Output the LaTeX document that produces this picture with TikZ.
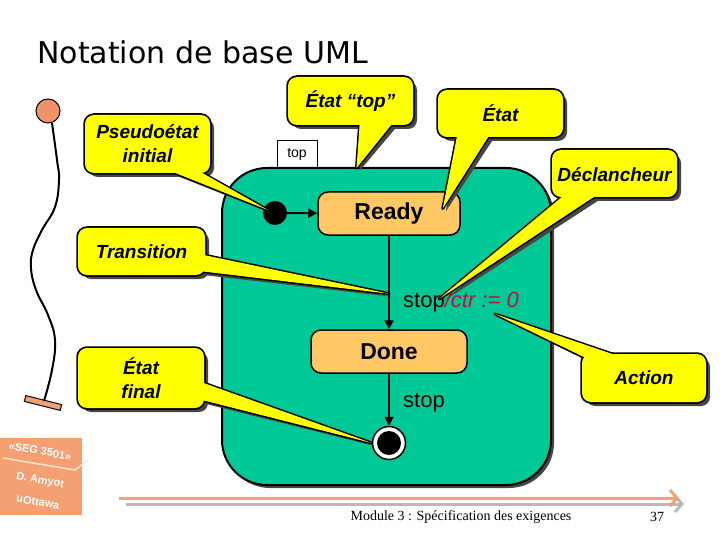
\documentclass[tikz,border=0pt]{standalone}
\usepackage{fontspec}
\setmainfont{Liberation Sans}
\newfontfamily\titlefont{DejaVu Sans}
\newfontfamily\footfont{Liberation Serif}
\usetikzlibrary{calc,arrows.meta}
\definecolor{greenc}{RGB}{0,200,150}
\definecolor{statec}{RGB}{255,200,100}
\definecolor{yelc}{RGB}{255,255,0}
\definecolor{shadowc}{RGB}{70,70,70}
\definecolor{orangec}{RGB}{245,160,115}
\definecolor{circc}{RGB}{240,145,105}
\definecolor{redc}{RGB}{190,20,60}
\definecolor{grayarrow}{RGB}{185,185,185}
\definecolor{badgeline}{RGB}{255,230,200}
\begin{document}
\begin{tikzpicture}[x=1pt,y=-1pt,
  statebox/.style={draw, fill=statec, line width=1.5pt, rounded corners=10pt,
     inner sep=0pt, font=\bfseries\fontsize{23}{25}\selectfont},
  flow/.style={line width=2pt, -{Triangle[length=9pt,width=9pt]}},
  ctext/.style={align=center, inner sep=0pt, font=\bfseries\itshape\fontsize{19}{24}\selectfont},
  badgetext/.style={text=white, inner sep=0pt, rotate=-10, font=\bfseries\fontsize{11}{13}\selectfont},
  footer/.style={inner sep=0pt, font=\footfont\fontsize{14}{16}\selectfont}]
\useasboundingbox (0,0) rectangle (720,540);

% title
\node[anchor=west, inner sep=0pt, font=\titlefont\fontsize{30}{34}\selectfont] (title) at (37,52) {Notation de base UML};

% left decoration
\node[draw, fill=orangec, line width=1pt, minimum width=37pt, minimum height=6pt, inner sep=0pt, rotate=-14] (pend) at (43,403) {};
\draw[line width=2pt] plot[smooth, tension=0.7] coordinates {(52,123) (57,160) (59,180) (55,207) (42,230) (33,250) (31,268) (36,290) (48,315) (55,340) (52,370) (44,401)};
\node[circle, draw, fill=circc, line width=1pt, minimum size=24pt, inner sep=0pt] (pstart) at (48,111) {};

% top state
\node[draw, fill=white, line width=1pt, minimum width=40pt, minimum height=27pt, inner sep=0pt, font=\fontsize{14}{16}\selectfont] (toptab) at (297,154.5) {top};
\fill[shadowc, rounded corners=45pt] (225,171) rectangle (554,488);
\node[draw, fill=greenc, line width=2pt, rounded corners=45pt, minimum width=329pt, minimum height=317pt, inner sep=0pt] (topstate) at (386.5,326.5) {};

\node[statebox, minimum width=142pt, minimum height=43pt] (ready) at (389,213.5) {Ready};
\node[statebox, minimum width=156pt, minimum height=43pt] (done) at (389,351.5) {Done};
\node[circle, fill=black, minimum size=24pt, inner sep=0pt] (init) at (275,213) {};
\node[circle, draw, fill=white, line width=1.5pt, minimum size=33pt, inner sep=0pt] (final) at (389,443) {};
\fill (final.center) circle (12);

\draw[flow] (init) -- (ready);
\draw[flow] (ready.south) -- (ready.south |- done.north);
\draw[flow] (done.south) -- (done.south |- final.north);

\node[anchor=west, inner sep=0pt, font=\fontsize{22}{24}\selectfont] (trig) at (403,302) {stop\textcolor{redc}{\itshape/ctr := 0}};
\node[anchor=west, inner sep=0pt, font=\fontsize{22}{24}\selectfont] (stoplbl) at (403,403) {stop};

% callout geometry
\coordinate (c1a) at (85,115);  \coordinate (c1b) at (210,173);
\coordinate (p1a) at (158,166); \coordinate (p1b) at (190,166); \coordinate (p1t) at ($(init.west)+(5,-3)$);
\coordinate (c2a) at (288,77);  \coordinate (c2b) at (413,125);
\coordinate (p2a) at (360,119); \coordinate (p2b) at (396,119); \coordinate (p2t) at ($(topstate.north)+(-30,1)$);
\coordinate (c3a) at (438,90);  \coordinate (c3b) at (563,137);
\coordinate (p3a) at (458,131); \coordinate (p3b) at (492,131); \coordinate (p3t) at ($(ready.east)+(-18,-5)$);
\coordinate (c4a) at (552,150); \coordinate (c4b) at (677,197);
\coordinate (p4a) at (569,191); \coordinate (p4b) at (603,191); \coordinate (p4t) at ($(trig.west)+(36,-3)$);
\coordinate (c5a) at (78,228);  \coordinate (c5b) at (205,275);
\coordinate (p5a) at (199,254); \coordinate (p5b) at (199,271); \coordinate (p5t) at ($(ready.south)!0.62!(done.north)$);
\coordinate (c6a) at (78,348);  \coordinate (c6b) at (204,408);
\coordinate (p6a) at (198,381); \coordinate (p6b) at (198,399); \coordinate (p6t) at (final.west);
\coordinate (c7a) at (582,354); \coordinate (c7b) at (706,402);
\coordinate (p7a) at (590,360); \coordinate (p7b) at (630,360); \coordinate (p7t) at ($(trig.west)+(92,12)$);

% shadows
\foreach \n in {1,...,7}{
  \fill[shadowc, rounded corners=9pt] ($(c\n a)+(4,4)$) rectangle ($(c\n b)+(4,4)$);
  \fill[shadowc] ($(p\n a)+(4,4)$) -- ($(p\n b)+(4,4)$) -- ($(p\n t)+(3,3)$) -- cycle;
}
% outlines
\foreach \n in {1,...,7}{
  \draw[line width=3.5pt, rounded corners=9pt] (c\n a) rectangle (c\n b);
  \draw[line width=3pt, line join=round] (p\n a) -- (p\n b) -- (p\n t) -- cycle;
}
% fills
\foreach \n in {1,...,7}{
  \fill[yelc, rounded corners=9pt] (c\n a) rectangle (c\n b);
  \fill[yelc] (p\n a) -- (p\n b) -- (p\n t) -- cycle;
}

\node[ctext] (n1) at (147.5,144) {Pseudoétat\\initial};
\node[ctext] (n2) at (350.5,101) {État “top”};
\node[ctext] (n3) at (500.5,113.5) {État};
\node[ctext] (n4) at (614.5,175) {Déclancheur};
\node[ctext] (n5) at (141.5,252) {Transition};
\node[ctext] (n6) at (141,378) {État\\final};
\node[ctext] (n7) at (644,378) {Action};

% badge
\fill[orangec] (0,438) rectangle (82,515);
\draw[badgeline, line width=1.5pt] (3,458) -- (75,470) -- (88,460);
\node[badgetext] (b1) at (40,451) {«SEG 3501»};
\node[badgetext] (b2) at (40,481) {D. Amyot};
\node[badgetext] (b3) at (38,502) {uOttawa};

% bottom arrows
\coordinate (oa) at (119,498); \coordinate (ob) at (679,498);
\coordinate (ga) at (126,504); \coordinate (gb) at (684,504);
\draw[grayarrow, line width=3pt, -{Straight Barb[length=7pt,width=16pt,line width=3pt]}] (ga) -- (gb);
\draw[orangec, line width=3pt, -{Straight Barb[length=7pt,width=16pt,line width=3pt]}] (oa) -- (ob);

\node[footer] (foot) at (461,517) {Module 3 : Spécification des exigences};
\node[footer] (page) at (657,517) {37};
\end{tikzpicture}
\end{document}
